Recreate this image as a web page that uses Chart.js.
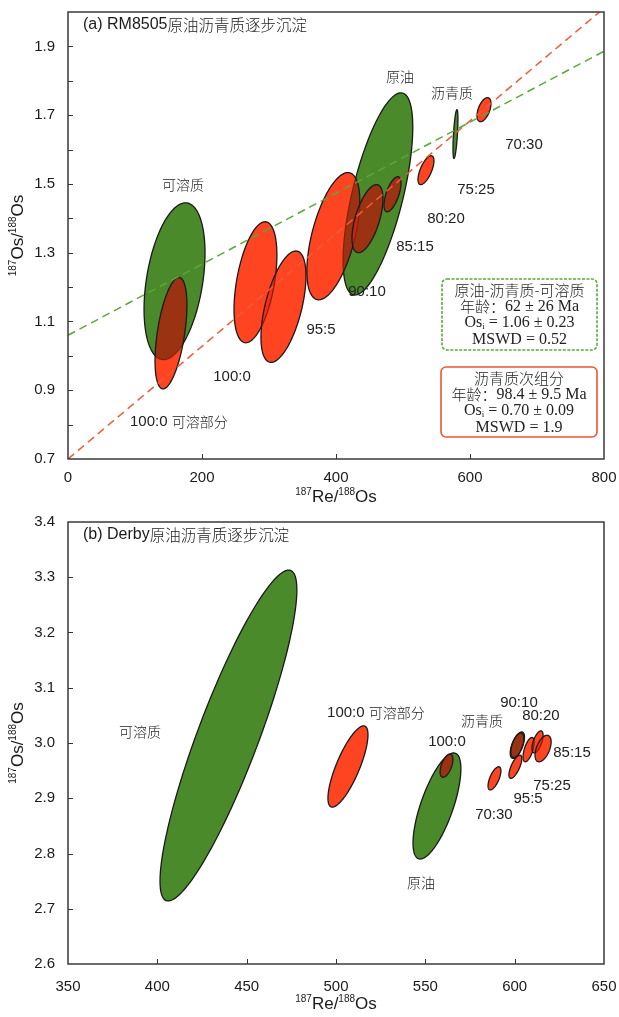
<!DOCTYPE html>
<html>
<head>
<meta charset="utf-8">
<script src="https://cdn.jsdelivr.net/npm/chart.js@4.4.0/dist/chart.umd.min.js"></script>
<style>
    html, body { margin: 0; padding: 0; background: #fff; }
    #wrap { position: relative; width: 619px; height: 1017px; }
    .box { position: absolute; left: 0; width: 619px; }
</style>
</head>
<body>
<div id="wrap">
    <div class="box" style="top:0;height:510px;"><canvas id="chartA"></canvas></div>
    <div class="box" style="top:510px;height:507px;"><canvas id="chartB"></canvas></div>
</div>
<script>
// data (a) RM8505 : ellipse centre, half-width, half-height, correlation
var aGreenNames = ['可溶质', '原油', '沥青质'];
var aGreenRe = [159, 462.6, 578.3];
var aGreenOs = [1.217, 1.471, 1.645];
var aGreenErrRe = [45.5, 52, 3.7];
var aGreenErrOs = [0.228, 0.294, 0.071];
var aGreenRho = [0.36, 0.66, 0.6];

var aRedNames = ['100:0 可溶部分', '100:0', '95:5', '90:10', '85:15', '80:20', '75:25', '70:30'];
var aRedRe = [153.7, 279.8, 321.6, 396, 447, 484.3, 534.3, 620.9];
var aRedOs = [1.066, 1.214, 1.143, 1.348, 1.399, 1.47, 1.54, 1.716];
var aRedErrRe = [23.8, 32, 33.6, 39.5, 23.1, 12.7, 11.9, 10.4];
var aRedErrOs = [0.162, 0.176, 0.162, 0.185, 0.099, 0.051, 0.042, 0.035];
var aRedRho = [0.5, 0.45, 0.55, 0.55, 0.58, 0.62, 0.65, 0.5];

// isochrons (a)
var isoRe = [0, 800];
var isoGreenOs = [1.06, 1.886];
var isoRedOs = [0.70, 2.011];

// data (b) Derby
var bGreenNames = ['可溶质', '原油', '沥青质'];
var bGreenRe = [439.8, 556.5, 601.5];
var bGreenOs = [3.0135, 2.886, 2.996];
var bGreenErrRe = [38.3, 13.4, 4.0];
var bGreenErrOs = [0.2995, 0.096, 0.024];
var bGreenRho = [0.88, 0.7, 0.6];

var bRedNames = ['100:0 可溶部分', '100:0', '70:30', '95:5', '90:10', '75:25', '80:20', '85:15'];
var bRedRe = [506.7, 561.85, 588.7, 600.4, 601.5, 607.8, 612.8, 615.9];
var bRedOs = [2.9575, 2.959, 2.936, 2.957, 2.996, 2.988, 3.002, 2.99];
var bRedErrRe = [11.2, 3.6, 3.6, 3.6, 3.65, 3.1, 3.1, 4.5];
var bRedErrOs = [0.0735, 0.021, 0.021, 0.021, 0.022, 0.022, 0.02, 0.024];
var bRedRho = [0.78, 0.54, 0.65, 0.7, 0.55, 0.6, 0.6, 0.5];

// fonts / colours
var fontSans = '"Liberation Sans", Arial, sans-serif';
var fontNarrow = '"Liberation Sans Narrow", "Liberation Sans", Arial, sans-serif';
var fontCJK = '"Noto Sans CJK SC", sans-serif';
var fontSerif = '"Liberation Serif", "Noto Sans CJK SC", serif';
var green = '#4a8a2a';
var red = '#ff4422';

// annotations, in data units
var aLabels = [
    { t: [['可溶质', '300 14px ' + fontCJK]], x: 171.6, y: 1.498 },
    { t: [['原油', '300 14px ' + fontCJK]], x: 495.5, y: 1.812 },
    { t: [['沥青质', '300 14px ' + fontCJK]], x: 573.1, y: 1.765 },
    { t: [['70:30', '15px ' + fontNarrow]], x: 680.6, y: 1.614 },
    { t: [['75:25', '15px ' + fontNarrow]], x: 609, y: 1.483 },
    { t: [['80:20', '15px ' + fontNarrow]], x: 564.2, y: 1.399 },
    { t: [['85:15', '15px ' + fontNarrow]], x: 517.9, y: 1.317 },
    { t: [['90:10', '15px ' + fontNarrow]], x: 446.3, y: 1.186 },
    { t: [['95:5', '15px ' + fontNarrow]], x: 377.6, y: 1.076 },
    { t: [['100:0', '15px ' + fontNarrow]], x: 244.8, y: 0.939 },
    { t: [['100:0 ', '15px ' + fontNarrow], ['可溶部分', '300 14px ' + fontCJK]], x: 92.5, y: 0.808, left: true }
];

var bLabels = [
    { t: [['可溶质', '300 14px ' + fontCJK]], x: 390.3, y: 3.020 },
    { t: [['100:0 ', '15px ' + fontNarrow], ['可溶部分', '300 14px ' + fontCJK]], x: 495, y: 3.054, left: true },
    { t: [['沥青质', '300 14px ' + fontCJK]], x: 581.7, y: 3.040 },
    { t: [['100:0', '15px ' + fontNarrow]], x: 562.1, y: 3.002 },
    { t: [['90:10', '15px ' + fontNarrow]], x: 602.4, y: 3.072 },
    { t: [['80:20', '15px ' + fontNarrow]], x: 614.7, y: 3.049 },
    { t: [['85:15', '15px ' + fontNarrow]], x: 632.1, y: 2.982 },
    { t: [['75:25', '15px ' + fontNarrow]], x: 620.9, y: 2.922 },
    { t: [['95:5', '15px ' + fontNarrow]], x: 607.5, y: 2.899 },
    { t: [['70:30', '15px ' + fontNarrow]], x: 588.4, y: 2.870 },
    { t: [['原油', '300 14px ' + fontCJK]], x: 547.6, y: 2.747 }
];

// helpers
window.drawParts = function (ctx, x, y, parts, left) {
    var total = 0;
    parts.forEach(function (p) {
        ctx.font = p[1];
        total += ctx.measureText(p[0]).width;
    });
    var cx = left ? x : x - total / 2;
    ctx.textBaseline = 'middle';
    ctx.textAlign = 'left';
    parts.forEach(function (p) {
        ctx.font = p[1];
        ctx.fillText(p[0], cx, y + (p[2] || 0));
        cx += ctx.measureText(p[0]).width;
    });
};

window.ellipsePath = function (ctx, xs, ys, cx, cy, hx, hy, rho) {
    var k = Math.sqrt(1 - rho * rho);
    ctx.beginPath();
    for (var i = 0; i <= 120; i++) {
        var t = i / 120 * 2 * Math.PI;
        var px = xs.getPixelForValue(cx + hx * Math.cos(t));
        var py = ys.getPixelForValue(cy + hy * (rho * Math.cos(t) + k * Math.sin(t)));
        if (i === 0) { ctx.moveTo(px, py); } else { ctx.lineTo(px, py); }
    }
    ctx.closePath();
};

window.drawEllipses = function (chart, set) {
    var ctx = chart.ctx, xs = chart.scales.x, ys = chart.scales.y, a = chart.chartArea;
    ctx.save();
    ctx.beginPath();
    ctx.rect(a.left, a.top, a.right - a.left, a.bottom - a.top);
    ctx.clip();
    ctx.lineWidth = 1.3;
    ctx.strokeStyle = '#1a1a1a';

    // green first
    for (var i = 0; i < set.gx.length; i++) {
        ellipsePath(ctx, xs, ys, set.gx[i], set.gy[i], set.gex[i], set.gey[i], set.grho[i]);
        ctx.fillStyle = green;
        ctx.fill();
        ctx.stroke();
    }
    // red, darkened where it lies over other ellipses
    for (var j = 0; j < set.rx.length; j++) {
        ellipsePath(ctx, xs, ys, set.rx[j], set.ry[j], set.rex[j], set.rey[j], set.rrho[j]);
        ctx.globalCompositeOperation = 'multiply';
        ctx.fillStyle = red;
        ctx.fill();
        ctx.globalCompositeOperation = 'source-over';
        ctx.globalAlpha = 0.45;
        ctx.fill();
        ctx.globalAlpha = 1;
        ctx.stroke();
    }
    ctx.restore();
};

window.drawFrame = function (chart, set) {
    var ctx = chart.ctx, xs = chart.scales.x, ys = chart.scales.y, a = chart.chartArea;
    ctx.save();
    // inner ticks
    ctx.strokeStyle = '#333';
    ctx.lineWidth = 1;
    ys.ticks.forEach(function (t) {
        var py = Math.round(ys.getPixelForValue(t.value)) + 0.5;
        if (py < a.top + 2 || py > a.bottom - 2) { return; }
        ctx.beginPath();
        ctx.moveTo(a.left, py);
        ctx.lineTo(a.left + 5, py);
        ctx.stroke();
    });
    xs.ticks.forEach(function (t) {
        var px = Math.round(xs.getPixelForValue(t.value)) + 0.5;
        if (px < a.left + 2 || px > a.right - 2) { return; }
        ctx.beginPath();
        ctx.moveTo(px, a.bottom);
        ctx.lineTo(px, a.bottom - 5);
        ctx.stroke();
    });
    // box
    ctx.lineWidth = 1.5;
    ctx.strokeStyle = '#3a3a3a';
    ctx.strokeRect(a.left, a.top, a.right - a.left, a.bottom - a.top);

    // title
    ctx.fillStyle = '#1a1a1a';
    drawParts(ctx, a.left + 15, a.top + 13, [[set.title[0], '16px ' + fontSans], [set.title[1], '300 15.5px ' + fontCJK]], true);

    // annotation labels
    ctx.fillStyle = '#222';
    set.labels.forEach(function (l) {
        drawParts(ctx, xs.getPixelForValue(l.x), ys.getPixelForValue(l.y), l.t, l.left);
    });

    // axis titles
    ctx.fillStyle = '#1a1a1a';
    var cxT = (a.left + a.right) / 2;
    drawParts(ctx, cxT, chart.height - 13, [['187', '10px ' + fontSans, -5], ['Re/', '17px ' + fontSans], ['188', '10px ' + fontSans, -5], ['Os', '17px ' + fontSans]]);
    ctx.save();
    ctx.translate(18, (a.top + a.bottom) / 2);
    ctx.rotate(-Math.PI / 2);
    drawParts(ctx, 0, 0, [['187', '10px ' + fontSans, -5], ['Os/', '17px ' + fontSans], ['188', '10px ' + fontSans, -5], ['Os', '17px ' + fontSans]]);
    ctx.restore();

    // result boxes
    (set.boxes || []).forEach(function (b) {
        ctx.save();
        ctx.beginPath();
        ctx.roundRect(b.x0, b.y0, b.x1 - b.x0, b.y1 - b.y0, 5);
        ctx.lineWidth = 1.6;
        ctx.strokeStyle = b.color;
        ctx.setLineDash(b.dash);
        ctx.stroke();
        ctx.restore();
        ctx.fillStyle = '#222';
        var mid = (b.x0 + b.x1) / 2;
        b.lines.forEach(function (ln, k) {
            drawParts(ctx, mid, b.y0 + 11 + k * 16.5, ln);
        });
    });
    ctx.restore();
};

window.makeChart = function (id, cfg) {
    var set = cfg;
    return new Chart(document.getElementById(id), {
        type: 'scatter',
        data: { datasets: cfg.datasets },
        options: {
            responsive: true,
            maintainAspectRatio: false,
            animation: false,
            layout: { autoPadding: false, padding: { top: 12, right: 15, left: 0, bottom: 0 } },
            plugins: { legend: { display: false }, tooltip: { enabled: false } },
            scales: {
                x: {
                    type: 'linear', min: cfg.xMin, max: cfg.xMax,
                    grid: { display: false },
                    border: { display: false },
                    ticks: { stepSize: cfg.xStep, padding: cfg.xPad, color: '#1a1a1a', font: { family: fontSans, size: 15 } },
                    afterFit: function (s) {
                        s.height = cfg.xHeight;
                        s.paddingLeft = 0;
                        s.paddingRight = 0;
                    }
                },
                y: {
                    type: 'linear', min: cfg.yMin, max: cfg.yMax,
                    grid: { display: false },
                    border: { display: false },
                    ticks: {
                        stepSize: 0.1, padding: 5, color: '#1a1a1a', font: { family: fontSans, size: 15 },
                        callback: cfg.yLabel
                    },
                    afterFit: function (s) {
                        s.width = 68;
                        s.paddingTop = 0;
                        s.paddingBottom = 0;
                    }
                }
            }
        },
        plugins: [{
            id: 'ellipses',
            beforeDatasetsDraw: function (chart) { drawEllipses(chart, set); },
            afterDraw: function (chart) { drawFrame(chart, set); }
        }]
    });
};

function isoLine(ys, color) {
    return {
        type: 'line',
        data: isoRe.map(function (x, i) { return { x: x, y: ys[i] }; }),
        borderColor: color,
        borderWidth: 1.5,
        borderDash: [8, 5],
        pointRadius: 0,
        fill: false
    };
}

function centres(xs, ys) {
    return {
        data: xs.map(function (x, i) { return { x: x, y: ys[i] }; }),
        pointRadius: 0
    };
}

window.onload = function () {
    makeChart('chartA', {
        xMin: 0, xMax: 800, xStep: 200, xPad: 2, xHeight: 51,
        yMin: 0.7, yMax: 2.0,
        yLabel: function (v) {
            var n = Math.round(v * 10);
            return n % 2 === 1 && n < 20 ? (n / 10).toFixed(1) : '';
        },
        gx: aGreenRe, gy: aGreenOs, gex: aGreenErrRe, gey: aGreenErrOs, grho: aGreenRho,
        rx: aRedRe, ry: aRedOs, rex: aRedErrRe, rey: aRedErrOs, rrho: aRedRho,
        labels: aLabels,
        title: ['(a) RM8505', '原油沥青质逐步沉淀'],
        boxes: [
            { x0: 442, y0: 279, x1: 597, y1: 350, color: '#5aaa3a', dash: [3, 1.5], lines: [
                [['原油-沥青质-可溶质', '300 15px ' + fontCJK]],
                [['年龄：', '300 15px ' + fontCJK], ['62 ± 26 Ma', '16px ' + fontSerif]],
                [['Os', '16px ' + fontSerif], ['i', '9px ' + fontSerif, 4], [' = 1.06 ± 0.23', '16px ' + fontSerif]],
                [['MSWD = 0.52', '16px ' + fontSerif]]
            ] },
            { x0: 441, y0: 367, x1: 597, y1: 437, color: '#ee5533', dash: [], lines: [
                [['沥青质次组分', '300 15px ' + fontCJK]],
                [['年龄：', '300 15px ' + fontCJK], ['98.4 ± 9.5 Ma', '16px ' + fontSerif]],
                [['Os', '16px ' + fontSerif], ['i', '9px ' + fontSerif, 4], [' = 0.70 ± 0.09', '16px ' + fontSerif]],
                [['MSWD = 1.9', '16px ' + fontSerif]]
            ] }
        ],
        datasets: [isoLine(isoGreenOs, '#5aa83a'), isoLine(isoRedOs, '#f05a3a'), centres(aRedRe, aRedOs)]
    });

    makeChart('chartB', {
        xMin: 350, xMax: 650, xStep: 50, xPad: 6, xHeight: 53,
        yMin: 2.6, yMax: 3.4,
        yLabel: function (v) { return v.toFixed(1); },
        gx: bGreenRe, gy: bGreenOs, gex: bGreenErrRe, gey: bGreenErrOs, grho: bGreenRho,
        rx: bRedRe, ry: bRedOs, rex: bRedErrRe, rey: bRedErrOs, rrho: bRedRho,
        labels: bLabels,
        title: ['(b) Derby', '原油沥青质逐步沉淀'],
        boxes: [],
        datasets: [centres(bRedRe, bRedOs)]
    });
};
</script>
</body>
</html>
